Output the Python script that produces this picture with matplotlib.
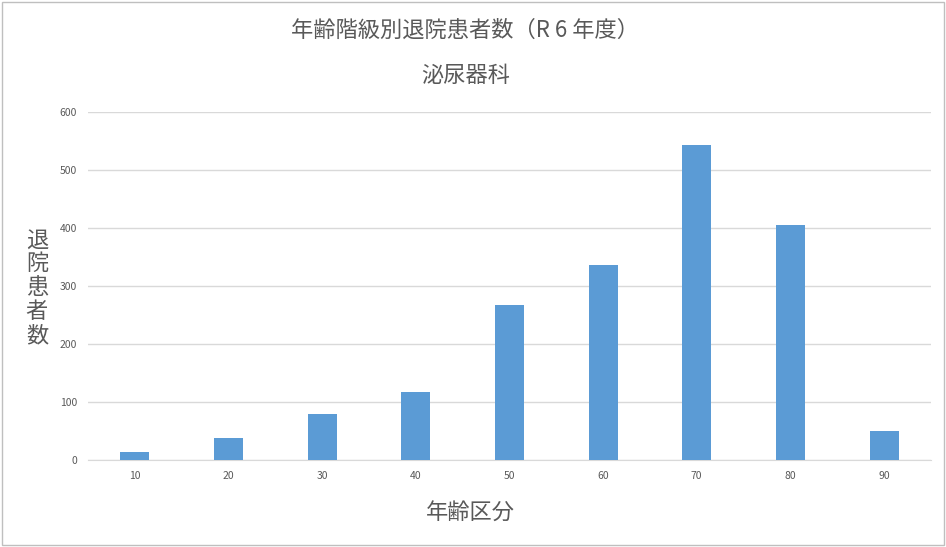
import matplotlib
matplotlib.use('Agg')
import matplotlib.pyplot as plt
from matplotlib.patches import Rectangle

plt.rcParams['font.family'] = ['Noto Sans CJK JP', 'DejaVu Sans']

# data
age_groups = ['10', '20', '30', '40', '50', '60', '70', '80', '90']
discharges = [13, 38, 79, 118, 268, 337, 544, 405, 50]

TEXT_GRAY = '#595959'
GRID_GRAY = '#D9D9D9'
BAR_BLUE  = '#5B9BD5'

fig = plt.figure(figsize=(9.46, 5.47), dpi=100)
ax = fig.add_axes([0.093, 0.159, 0.891, 0.636])

x = range(len(age_groups))
ax.bar(x, discharges, width=0.31, color=BAR_BLUE, zorder=3)

ax.set_xlim(-0.5, len(age_groups) - 0.5)
ax.set_ylim(0, 600)
ax.set_yticks(range(0, 601, 100))
ax.set_xticks(list(x))
ax.set_xticklabels(age_groups)
ax.tick_params(axis='both', length=0, labelsize=7.5, colors=TEXT_GRAY, pad=8)
ax.tick_params(axis='y', pad=8)
ax.grid(axis='y', color=GRID_GRAY, lw=1, zorder=0)
for s in ['top', 'right', 'left']:
    ax.spines[s].set_visible(False)
ax.spines['bottom'].set_color(GRID_GRAY)

fig.text(0.492, 0.945, '年齢階級別退院患者数（R 6 年度）', ha='center', va='center',
         fontsize=16, color=TEXT_GRAY)
fig.text(0.492, 0.862, '泌尿器科', ha='center', va='center',
         fontsize=16, color=TEXT_GRAY)
fig.text(0.497, 0.062, '年齢区分', ha='center', va='center',
         fontsize=16, color=TEXT_GRAY)
fig.text(0.039, 0.474, '\n'.join('退院患者数'), ha='center', va='center',
         fontsize=16, color=TEXT_GRAY, linespacing=1.05)

# thin frame round the picture
fig.patches.append(Rectangle((0.002, 0.003), 0.996, 0.994, transform=fig.transFigure,
                             fill=False, edgecolor='#BFBFBF', lw=1))

plt.savefig('out.png', dpi=100)
